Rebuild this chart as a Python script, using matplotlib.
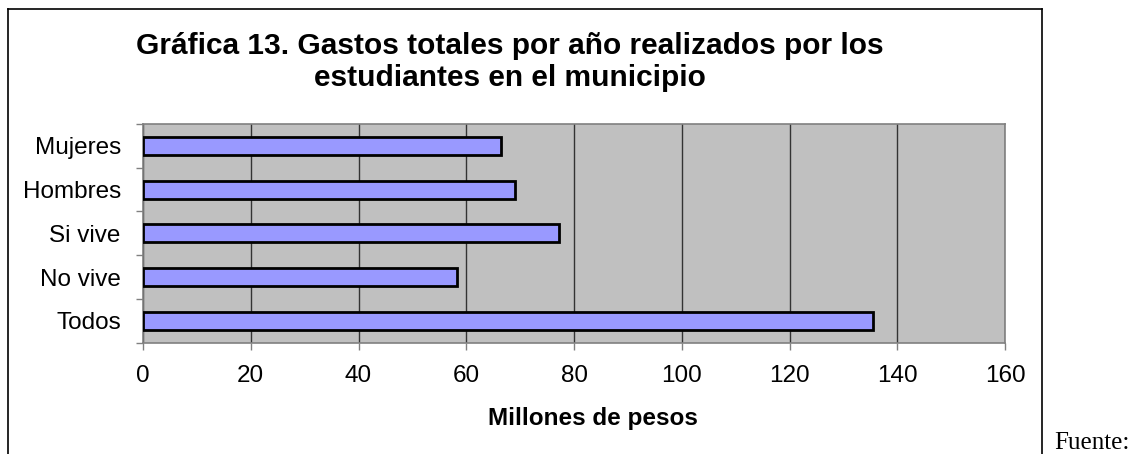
import matplotlib.pyplot as plt
from matplotlib.lines import Line2D
import numpy as np

plt.rcParams['font.family'] = ['Liberation Sans', 'DejaVu Sans']

categories = ['Mujeres', 'Hombres', 'Si vive', 'No vive', 'Todos']
gastos = [66.5, 69.0, 77.2, 58.3, 135.5]
x_ticks = [0, 20, 40, 60, 80, 100, 120, 140, 160]

W, H = 1132, 454
fig = plt.figure(figsize=(W / 100, H / 100), dpi=100)

# frame around the chart (bottom edge is cut off)
fx0, fx1, fy_top = 8 / W, 1042 / W, 1 - 9 / H
for xs, ys in [((fx0, fx0), (0, fy_top)), ((fx0, fx1), (fy_top, fy_top)), ((fx1, fx1), (0, fy_top))]:
    fig.add_artist(Line2D(xs, ys, transform=fig.transFigure, color='black', lw=1.2))

left, right, top, bottom = 143, 1005, 124, 342.7
ax = fig.add_axes([left / W, 1 - bottom / H, (right - left) / W, (bottom - top) / H])
ax.set_facecolor('#C0C0C0')

y = np.arange(len(categories))
ax.barh(y, gastos, height=0.41, color='#9999FF', edgecolor='black', linewidth=2, zorder=3)

ax.set_xlim(0, 160)
ax.set_ylim(len(categories) - 0.5, -0.5)
ax.set_xticks(x_ticks)
ax.set_xticklabels([str(v) for v in x_ticks], fontsize=17.5)
ax.tick_params(axis='x', length=5, width=1, color='#808080', pad=11)
ax.set_yticks(y)
ax.set_yticklabels(categories, fontsize=17.5)
ax.tick_params(axis='y', which='major', length=0, pad=16)
ax.set_yticks(np.arange(len(categories) + 1) - 0.5, minor=True)
ax.tick_params(axis='y', which='minor', length=5, width=1, color='#808080')
ax.grid(axis='x', color='#333333', linewidth=1, zorder=1)
ax.set_axisbelow(True)
for s in ax.spines.values():
    s.set_color('#808080')
    s.set_linewidth(1.2)

ax.set_xlabel('Millones de pesos', fontsize=17.5, fontweight='bold')
ax.xaxis.label.set_va('center')
ax.xaxis.set_label_coords(0.522, -(419 - bottom) / (bottom - top))

fig.text(510 / W, 1 - 62 / H, 'Gráfica 13. Gastos totales por año realizados por los\nestudiantes en el municipio',
         ha='center', va='center', fontsize=21.5, fontweight='bold', linespacing=1.2)

# note beside the frame, near the bottom edge
fig.text(1054 / W, 1 - 449 / H, 'Fuente:', family='Liberation Serif', fontsize=18, ha='left', va='baseline')

fig.savefig('out.png', dpi=100)
